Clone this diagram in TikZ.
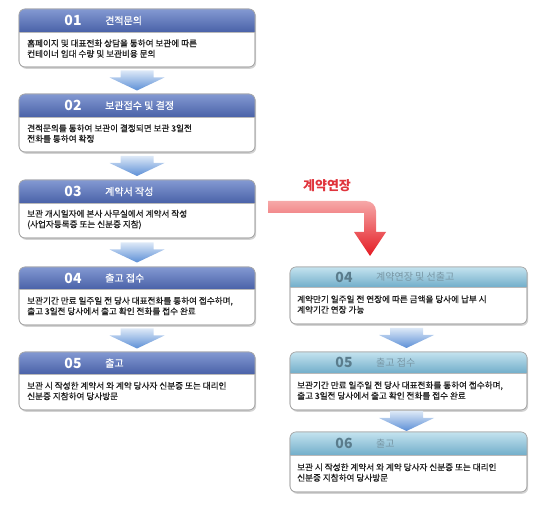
\documentclass[tikz,border=0pt]{standalone}
\usepackage{fontspec}
\setmainfont{Noto Sans CJK KR}
\newfontfamily\bodyfnt{Noto Sans CJK KR}[FakeBold=0.6]
\newfontfamily\ttlfnt{Noto Sans CJK KR}[FakeBold=0.4]
\usetikzlibrary{calc,shadows}
\definecolor{hdLtop}{HTML}{8399D2}
\definecolor{hdLbot}{HTML}{4A62A8}
\definecolor{hdRtop}{HTML}{C4E3EF}
\definecolor{hdRbot}{HTML}{72AECA}
\definecolor{cNumR}{HTML}{5A7C8C}
\definecolor{cTtlR}{HTML}{7896A4}
\definecolor{cFrame}{HTML}{A8A8A8}
\definecolor{arTop}{HTML}{DCE8F7}
\definecolor{arBot}{HTML}{5C8FD6}
\definecolor{redA}{HTML}{F6A8A8}
\definecolor{redB}{HTML}{E41B23}
\definecolor{redTxt}{HTML}{E0343C}
\definecolor{bodyTxt}{HTML}{1E1E1E}
\tikzset{
  boxframe/.style={draw=cFrame, line width=0.6pt, fill=white, rounded corners=6pt,
    inner sep=0pt, outer sep=0pt,
    drop shadow={shadow xshift=1.2pt, shadow yshift=-1.8pt, opacity=0.35}},
  hdrL/.style={top color=hdLtop, bottom color=hdLbot},
  hdrR/.style={top color=hdRtop, bottom color=hdRbot},
  boxline/.style={draw=cFrame, line width=0.6pt},
  sepline/.style={draw=cFrame!80, line width=0.5pt},
  numL/.style={text=white, font=\fontsize{14}{14}\selectfont\bfseries, inner sep=0pt},
  numR/.style={text=cNumR, font=\fontsize{14}{14}\selectfont\bfseries, inner sep=0pt},
  ttlL/.style={text=white, font=\fontsize{10}{10}\selectfont\ttlfnt, inner sep=0pt},
  ttlR/.style={text=cTtlR, font=\fontsize{10}{10}\selectfont, inner sep=0pt},
  bodytext/.style={text=bodyTxt, font=\fontsize{8.6}{10.5}\selectfont\bodyfnt, align=left, inner sep=0pt, anchor=west},
  barrow/.style={top color=arTop, bottom color=arBot},
  redarrow/.style={top color=redA, bottom color=redB},
  redlabel/.style={text=redTxt, font=\fontsize{13}{13}\selectfont\bfseries, inner sep=0pt}
}
% #1 name, #2 x, #3 ytop, #4 width, #5 height, #6 header height, #7 L/R, #8 number, #9 title
\newcommand\flowbox[9]{%
  \node[boxframe, minimum width=#4pt, minimum height=#5pt, anchor=north west] (#1) at (#2,-#3) {};
  \coordinate (#1h) at ($(#1.north west)+(0,-#6)$);
  \begin{scope}
    \clip[rounded corners=6pt] (#1.south west) rectangle (#1.north east);
    \shade[hdr#7] (#1.north west) rectangle (#1.east |- #1h);
  \end{scope}
  \draw[sepline] (#1h) -- (#1.east |- #1h);
  \draw[boxline, rounded corners=6pt] (#1.south west) rectangle (#1.north east);
  \node[num#7] (#1n) at ($(#1.north west)+(54,-#6/2)$) {#8};
  \node[ttl#7, anchor=west] (#1ti) at ($(#1.north west)+(86,-#6/2)$) {#9};
}
\newcommand\bluearrow[3]{%
  \shade[barrow] ($(#1.south)!0.5!(#2.north)+(#3,10)$) ++(-16.5,0) -- ++(33,0) -- ++(0,-7)
    -- ++(11,0) -- ++(-27.5,-13) -- ++(-27.5,13) -- ++(11,0) -- cycle;
}
\begin{document}
\begin{tikzpicture}[x=1pt,y=1pt]
\useasboundingbox (0,0) rectangle (550,-516);

% left column
\flowbox{b1}{19}{9}{236}{58}{23}{L}{01}{견적문의}
\flowbox{b2}{19}{94}{236}{58}{23}{L}{02}{보관접수 및 결정}
\flowbox{b3}{19}{180}{236}{58}{23}{L}{03}{계약서 작성}
\flowbox{b4}{19}{267}{236}{58}{22}{L}{04}{출고 접수}
\flowbox{b5}{19}{352}{236}{58}{22}{L}{05}{출고}

\node[bodytext] (b1t) at ($(b1.south west)!0.5!(b1h)+(8,1)$) {홈페이지 및 대표전화 상담을 통하여 보관에 따른\\컨테이너 임대 수량 및 보관비용 문의};
\node[bodytext] (b2t) at ($(b2.south west)!0.5!(b2h)+(8,1)$) {견적문의를 통하여 보관이 결정되면 보관 3일전\\전화를 통하여 확정};
\node[bodytext] (b3t) at ($(b3.south west)!0.5!(b3h)+(8,1)$) {보관 개시일자에 본사 사무실에서 계약서 작성\\(사업자등록증 또는 신분증 지참)};
\node[bodytext] (b4t) at ($(b4.south west)!0.5!(b4h)+(8,1)$) {보관기간 만료 일주일 전 당사 대표전화를 통하여 접수하며,\\출고 3일전 당사에서 출고 확인 전화를 접수 완료};
\node[bodytext] (b5t) at ($(b5.south west)!0.5!(b5h)+(8,1)$) {보관 시 작성한 계약서 와 계약 당사자 신분증 또는 대리인\\신분증 지참하여 당사방문};

\bluearrow{b1}{b2}{0}
\bluearrow{b2}{b3}{0}
\bluearrow{b3}{b4}{0}
\bluearrow{b4}{b5}{0}

% right column
\flowbox{r4}{290}{267}{237}{57}{20}{R}{04}{계약연장 및 선출고}
\flowbox{r5}{290}{352}{237}{58}{21}{R}{05}{출고 접수}
\flowbox{r6}{290}{432}{237}{60}{23}{R}{06}{출고}

\node[bodytext] (r4t) at ($(r4.south west)!0.5!(r4h)+(7,1)$) {계약만기 일주일 전 연장에 따른 금액을 당사에 납부 시\\계약기간 연장 가능};
\node[bodytext] (r5t) at ($(r5.south west)!0.5!(r5h)+(7,1)$) {보관기간 만료 일주일 전 당사 대표전화를 통하여 접수하며,\\출고 3일전 당사에서 출고 확인 전화를 접수 완료};
\node[bodytext] (r6t) at ($(r6.south west)!0.5!(r6h)+(7,1)$) {보관 시 작성한 계약서 와 계약 당사자 신분증 또는 대리인\\신분증 지참하여 당사방문};

\bluearrow{r4}{r5}{-2}
\bluearrow{r5}{r6}{-2}

% contract extension arrow
\node[redlabel] (extlbl) at (327,-186) {계약연장};
\coordinate (redstart) at ($(b3.east)+(13,-2)$);
\shade[redarrow] (redstart |- 0,-201) -- (366,-201) arc (90:0:10) -- (376,-232) -- (386,-232)
  -- (370,-256) -- (354,-232) -- (364,-232) -- (364,-213) -- (redstart |- 0,-213) -- cycle;
\end{tikzpicture}
\end{document}
